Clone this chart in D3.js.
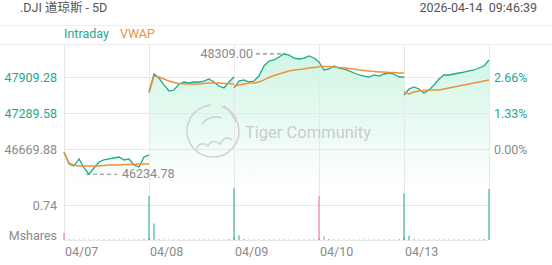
<!DOCTYPE html>
<html lang="zh">
<head>
<meta charset="UTF-8">
<title>.DJI 5D</title>
<script src="https://d3js.org/d3.v7.min.js"></script>
<style>
  body { margin: 0; background: #fff; }
  svg { display: block; font-family: Roboto, "Noto Sans", "Noto Sans CJK SC", sans-serif; }
</style>
</head>
<body>
<div id="chart"></div>
<script>
// days shown
const days = ["04/07", "04/08", "04/09", "04/10", "04/13"];

// intraday price per day
const intraday0407 = [46618, 46412, 46377, 46498, 46343, 46235, 46343, 46446, 46481, 46498, 46515, 46532, 46481, 46498, 46394, 46360, 46532, 46567];
const intraday0408 = [47651, 47961, 47892, 47772, 47668, 47685, 47789, 47823, 47806, 47823, 47823, 47840, 47875, 47823, 47754, 47720, 47823, 47909];
const intraday0409 = [47720, 47840, 47858, 47823, 47840, 47926, 48099, 48185, 48202, 48254, 48309, 48288, 48236, 48219, 48236, 48271, 48236, 48167];
const intraday0410 = [48167, 48030, 48047, 48099, 48064, 48047, 48013, 47978, 47944, 47926, 47909, 47944, 47926, 47961, 47978, 47961, 47909, 47909];
const intraday0413 = [47599, 47703, 47737, 47703, 47634, 47685, 47772, 47875, 47944, 47944, 47961, 47978, 47995, 48013, 48030, 48064, 48099, 48202];

// VWAP per day
const vwap0407 = [46618, 46429, 46394, 46377, 46377, 46377, 46377, 46377, 46386, 46394, 46394, 46394, 46403, 46403, 46403, 46412, 46412, 46412];
const vwap0408 = [47634, 47926, 47909, 47875, 47840, 47815, 47797, 47789, 47789, 47789, 47789, 47797, 47806, 47806, 47806, 47797, 47797, 47789];
const vwap0409 = [47754, 47772, 47789, 47806, 47806, 47823, 47858, 47901, 47935, 47961, 47987, 48013, 48030, 48038, 48047, 48064, 48073, 48081];
const vwap0410 = [48090, 48090, 48090, 48081, 48073, 48064, 48056, 48047, 48030, 48021, 48013, 48004, 47995, 47995, 47987, 47987, 47978, 47978];
const vwap0413 = [47651, 47617, 47651, 47668, 47677, 47685, 47685, 47685, 47703, 47720, 47737, 47754, 47772, 47789, 47806, 47823, 47840, 47858];

// volume per day (Mshares)
const volume0407 = [0.15, 0.02, 0.01, 0.01, 0.01, 0.01, 0.01, 0.01, 0.01, 0.01, 0.01, 0.01, 0.01, 0.01, 0.01, 0.01, 0.02, 0.04];
const volume0408 = [0.93, 0.35, 0.02, 0.01, 0.01, 0.01, 0.01, 0.01, 0.01, 0.01, 0.01, 0.01, 0.01, 0.01, 0.01, 0.01, 0.02, 0.05];
const volume0409 = [1.10, 0.10, 0.02, 0.01, 0.01, 0.01, 0.01, 0.01, 0.01, 0.01, 0.01, 0.01, 0.01, 0.01, 0.01, 0.01, 0.02, 0.04];
const volume0410 = [0.93, 0.08, 0.02, 0.01, 0.01, 0.01, 0.01, 0.01, 0.01, 0.01, 0.01, 0.01, 0.01, 0.01, 0.01, 0.01, 0.02, 0.04];
const volume0413 = [0.99, 0.09, 0.02, 0.01, 0.01, 0.01, 0.01, 0.01, 0.01, 0.01, 0.01, 0.01, 0.01, 0.01, 0.01, 0.01, 0.02, 1.08];

// axis ticks
const priceTicks = [46669.88, 47289.58, 47909.28];
const pctTicks = ["0.00%", "1.33%", "2.66%"];
const volumeTick = 0.74;
const prevClose = 46669.88;

const intraday = [intraday0407, intraday0408, intraday0409, intraday0410, intraday0413];
const vwap = [vwap0407, vwap0408, vwap0409, vwap0410, vwap0413];
const volume = [volume0407, volume0408, volume0409, volume0410, volume0413];

const W = 552, H = 265;
const plotLeft = 64, plotRight = 489;
const plotTop = 44, volBase = 240, priceBottom = 188;
const teal = "#1ea88e", orange = "#f0903a", red = "#e9728c", grey = "#8a8a8a", grid = "#e8e8e8";

const svg = d3.select("#chart").append("svg").attr("width", W).attr("height", H);

const xDay = d3.scaleBand().domain(days).range([plotLeft, plotRight]).padding(0);
const xIn = d3.scaleLinear().domain([0, intraday0407.length - 1]).range([0, xDay.bandwidth()]);
const X = (d, i) => xDay(days[d]) + xIn(i);

const y = d3.scaleLinear().domain([priceTicks[0], priceTicks[2]]).range([149, 77]);
const yv = d3.scaleLinear().domain([0, volumeTick]).range([volBase, 205]);

// header
svg.append("text").attr("x", 20).attr("y", 12).attr("font-size", 12.5).attr("fill", "#555").text(".DJI 道琼斯 - 5D");
svg.append("text").attr("x", 537).attr("y", 12).attr("text-anchor", "end").attr("font-size", 12.5)
  .attr("fill", "#555").style("white-space", "pre").text("2026-04-14  09:46:39");

svg.append("line").attr("x1", 0).attr("x2", W).attr("y1", 25.5).attr("y2", 25.5).attr("stroke", "#efefef");
svg.append("line").attr("x1", 0).attr("x2", W).attr("y1", 44.5).attr("y2", 44.5).attr("stroke", "#ececec");

// legend
svg.append("text").attr("x", 64).attr("y", 38).attr("font-size", 12.5).attr("fill", teal).text("Intraday");
svg.append("text").attr("x", 120).attr("y", 38).attr("font-size", 12.5).attr("fill", orange).text("VWAP");

// gradient fill
const defs = svg.append("defs");
const grad = defs.append("linearGradient").attr("id", "fillg").attr("gradientUnits", "userSpaceOnUse")
  .attr("x1", 0).attr("x2", 0).attr("y1", plotTop).attr("y2", priceBottom);
grad.append("stop").attr("offset", 0).attr("stop-color", "rgb(60,215,145)").attr("stop-opacity", 0.26);
grad.append("stop").attr("offset", 1).attr("stop-color", "rgb(60,215,145)").attr("stop-opacity", 0.0);

const area = d3.area().x(d => d[0]).y0(priceBottom).y1(d => d[1]);
const line = d3.line().x(d => d[0]).y(d => d[1]);

intraday.forEach((arr, d) => {
  svg.append("path").attr("d", area(arr.map((v, i) => [X(d, i), y(v)]))).attr("fill", "url(#fillg)");
});

// grid
svg.append("g").selectAll("line").data(priceTicks).join("line")
  .attr("x1", plotLeft).attr("x2", plotRight).attr("y1", d => Math.round(y(d)) + 0.5).attr("y2", d => Math.round(y(d)) + 0.5)
  .attr("stroke", grid);
svg.append("line").attr("x1", plotLeft).attr("x2", plotRight).attr("y1", Math.round(yv(volumeTick)) + 0.5)
  .attr("y2", Math.round(yv(volumeTick)) + 0.5).attr("stroke", grid);
svg.append("line").attr("x1", plotLeft).attr("x2", plotRight).attr("y1", volBase + 0.5).attr("y2", volBase + 0.5).attr("stroke", grid);
svg.append("g").selectAll("line").data(days.concat(["end"])).join("line")
  .attr("x1", d => d === "end" ? plotRight + 0.5 : Math.round(xDay(d)) + 0.5)
  .attr("x2", d => d === "end" ? plotRight + 0.5 : Math.round(xDay(d)) + 0.5)
  .attr("y1", plotTop).attr("y2", volBase).attr("stroke", grid);

// watermark
const wm = svg.append("g").attr("fill", "none").attr("stroke", "#d2d2d2").attr("stroke-width", 1.6);
wm.append("path").attr("d", d3.arc()({ innerRadius: 26, outerRadius: 26, startAngle: 0.35, endAngle: 2 * Math.PI - 0.1 }))
  .attr("transform", "translate(213,131)");
wm.append("path").attr("d", "M196,150 Q200,140 208,146 Q212,138 220,144 Q226,134 232,140 M202,124 Q210,114 222,118 M224,106 Q232,112 236,122");
svg.append("text").attr("x", 245).attr("y", 138).attr("font-size", 16.5).attr("fill", "#cbcbcb").text("Tiger Community");

// volume bars
volume.forEach((arr, d) => {
  const p = intraday[d];
  svg.append("g").selectAll("rect").data(arr).join("rect")
    .attr("x", (v, i) => X(d, i) - 0.5).attr("width", 1)
    .attr("y", v => yv(v)).attr("height", v => volBase - yv(v))
    .attr("fill", (v, i) => {
      const up = i === 0 ? p[1] >= p[0] : p[i] >= p[i - 1];
      return up ? teal : red;
    });
});

// lines
intraday.forEach((arr, d) => {
  svg.append("path").attr("d", line(arr.map((v, i) => [X(d, i), y(v)])))
    .attr("fill", "none").attr("stroke", teal).attr("stroke-width", 1.3);
});
vwap.forEach((arr, d) => {
  svg.append("path").attr("d", line(arr.map((v, i) => [X(d, i), y(v)])))
    .attr("fill", "none").attr("stroke", orange).attr("stroke-width", 1.4);
});

// max / min marks
let hi = { v: -Infinity }, lo = { v: Infinity };
intraday.forEach((arr, d) => arr.forEach((v, i) => {
  if (v > hi.v) hi = { v, d, i };
  if (v < lo.v) lo = { v, d, i };
}));
const hx = X(hi.d, hi.i), hy = y(hi.v);
svg.append("line").attr("x1", hx - 28).attr("x2", hx).attr("y1", hy).attr("y2", hy)
  .attr("stroke", grey).attr("stroke-width", 1.2).attr("stroke-dasharray", "4,3");
svg.append("text").attr("x", hx - 31).attr("y", hy + 4).attr("text-anchor", "end").attr("font-size", 12.5)
  .attr("fill", grey).text("48309.00");
const lx = X(lo.d, lo.i), ly = y(lo.v);
svg.append("line").attr("x1", lx - 3).attr("x2", lx + 28).attr("y1", ly).attr("y2", ly)
  .attr("stroke", grey).attr("stroke-width", 1.2).attr("stroke-dasharray", "4,3");
svg.append("text").attr("x", lx + 33).attr("y", ly + 4).attr("font-size", 12.5)
  .attr("fill", grey).text("46234.78");

// axis labels
svg.append("g").selectAll("text").data(priceTicks).join("text")
  .attr("x", 57).attr("y", d => y(d) + 4.5).attr("text-anchor", "end").attr("font-size", 12.5)
  .attr("fill", d => d > prevClose ? teal : grey).text(d => d.toFixed(2));
svg.append("g").selectAll("text").data(pctTicks).join("text")
  .attr("x", 494).attr("y", (d, i) => y(priceTicks[i]) + 4.5).attr("font-size", 12.5)
  .attr("fill", (d, i) => priceTicks[i] > prevClose ? teal : grey).text(d => d);
svg.append("text").attr("x", 57).attr("y", yv(volumeTick) + 4.5).attr("text-anchor", "end").attr("font-size", 12.5)
  .attr("fill", grey).text(volumeTick.toFixed(2));
svg.append("text").attr("x", 57).attr("y", volBase).attr("text-anchor", "end").attr("font-size", 12.5)
  .attr("fill", grey).text("Mshares");

svg.append("g").selectAll("text").data(days).join("text")
  .attr("x", d => xDay(d) + 1).attr("y", 256).attr("font-size", 12.5).attr("fill", grey).text(d => d);
</script>
</body>
</html>
